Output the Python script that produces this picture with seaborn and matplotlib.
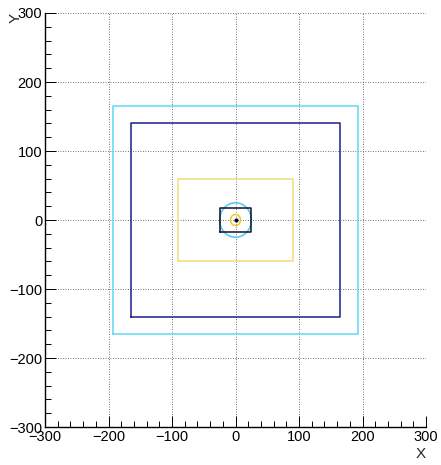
import numpy as np
import pandas as pd
import seaborn as sns
import matplotlib
matplotlib.use("Agg")
import matplotlib.pyplot as plt
from matplotlib.patches import Circle
from matplotlib.ticker import MultipleLocator

# Data: rectangles (half-width, half-height) and circles (radius)
rect_names = ["outer_cyan", "navy", "yellow", "core_box"]
rect_half_w = [193, 165, 90, 25]
rect_half_h = [165, 140, 60, 18]
rect_colors = ["#5fd8f5", "#1c1c8c", "#f0dc78", "#101030"]

circle_names = ["cyan_ring", "yellow_ring"]
circle_radius = [25, 8]
circle_colors = ["#4fc8f0", "#e8c830"]

tick_values = [-300, -200, -100, 0, 100, 200, 300]

sns.set_theme(style="white")
plt.rcParams['font.family'] = ['Liberation Sans', 'DejaVu Sans']

fig = plt.figure(figsize=(4.41, 4.65), dpi=100)
ax = fig.add_axes([45/441, 1 - 427/465, (426-45)/441, (427-13)/465])

rows = []
for name, hw, hh in zip(rect_names, rect_half_w, rect_half_h):
    xs = [-hw, hw, hw, -hw, -hw]
    ys = [-hh, -hh, hh, hh, -hh]
    for i, (x, y) in enumerate(zip(xs, ys)):
        rows.append({"shape": name, "order": i, "x": x, "y": y})
df = pd.DataFrame(rows)

sns.lineplot(data=df, x="x", y="y", hue="shape", sort=False, estimator=None,
             units="shape", palette=dict(zip(rect_names, rect_colors)),
             linewidth=1.1, legend=False, ax=ax)

for r, c in zip(circle_radius, circle_colors):
    ax.add_patch(Circle((0, 0), r, fill=False, edgecolor=c, linewidth=1.1))

sns.scatterplot(x=[0], y=[0], color="black", s=7, ax=ax, legend=False, zorder=5,
                edgecolor="black")

ax.set_xlim(-300, 300)
ax.set_ylim(-300, 300)
ax.set_xticks(tick_values)
ax.set_yticks(tick_values)
ax.xaxis.set_minor_locator(MultipleLocator(20))
ax.yaxis.set_minor_locator(MultipleLocator(20))
ax.grid(True, which="major", linestyle=(0, (1, 2)), color="#444444", linewidth=0.6)
ax.tick_params(which="major", direction="in", length=8, width=0.7, colors="black",
               labelsize=10.5, pad=2, top=False, right=False, left=True, bottom=True)
ax.tick_params(which="minor", direction="in", length=4, width=0.7, colors="black",
               top=False, right=False, left=True, bottom=True)
for s in ["top", "right"]:
    ax.spines[s].set_visible(False)
for s in ["left", "bottom"]:
    ax.spines[s].set_visible(True)
    ax.spines[s].set_color("black")
    ax.spines[s].set_linewidth(1.0)

ax.set_xlabel("X", fontsize=11, loc="right", labelpad=2)
ax.set_ylabel("")
fig.text(16/441, 1 - 13/465, "Y", rotation=90, fontsize=11, ha="center", va="top")

fig.savefig("out.png", dpi=100)
